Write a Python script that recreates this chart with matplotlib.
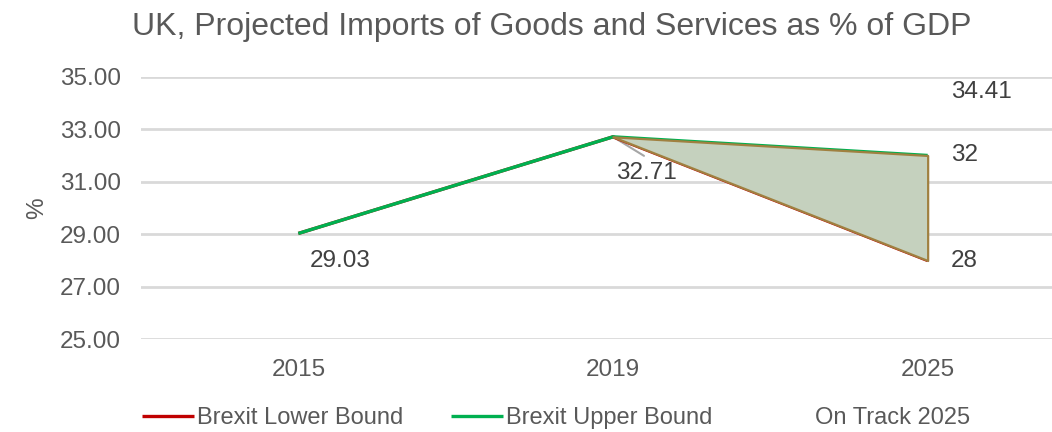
import matplotlib
matplotlib.use("Agg")
import matplotlib.pyplot as plt

# Projected UK imports of goods and services, % of GDP
years = ["2015", "2019", "2025"]
lower_bound = [29.03, 32.71, 28.0]
upper_bound = [29.03, 32.71, 32.0]
on_track_2025 = [34.41]

plt.rcParams["font.family"] = ["Liberation Sans", "DejaVu Sans"]
GREY_TEXT = "#595959"
DARK_TEXT = "#404040"
RED = "#c00000"
GREEN = "#00b050"

fig = plt.figure(figsize=(10.52, 4.32), dpi=100)
ax = fig.add_axes([141 / 1052, 0.2146, 944 / 1052, 0.6079])

x = list(range(len(years)))
ax.plot(x, lower_bound, color=RED, lw=2.4, label="Brexit Lower Bound", zorder=3,
        solid_capstyle="butt")
ax.plot(x, upper_bound, color=GREEN, lw=2.4, label="Brexit Upper Bound", zorder=4,
        solid_capstyle="butt")
ax.plot([x[-1]], on_track_2025, linestyle="none", marker=None, label="On Track 2025")

# Shaded Brexit range between the bounds after 2019
ax.fill_between(x[1:], lower_bound[1:], upper_bound[1:], facecolor="#c5d1be",
                edgecolor="#a08040", lw=1.6, zorder=5)

# Data labels
label_kw = dict(textcoords="offset points", fontsize=17.5, color=DARK_TEXT)
ax.annotate(f"{lower_bound[0]:.2f}", xy=(x[0], lower_bound[0]), xytext=(8, -19.5),
            ha="left", va="center", **label_kw)
ax.annotate("", xy=(x[1], lower_bound[1]), xytext=(22.3, -13.7),
            textcoords="offset points",
            arrowprops=dict(arrowstyle="-", color="#a6a6a6", lw=1.5,
                            shrinkA=0, shrinkB=0), zorder=2)
ax.annotate(f"{lower_bound[1]:.2f}", xy=(x[1], lower_bound[1]), xytext=(2, -26.4),
            ha="left", va="center", **label_kw)
ax.annotate(f"{upper_bound[2]:g}", xy=(x[2], upper_bound[2]), xytext=(16.5, 0),
            ha="left", va="center", **label_kw)
ax.annotate(f"{lower_bound[2]:g}", xy=(x[2], lower_bound[2]), xytext=(16.5, 0),
            ha="left", va="center", **label_kw)
ax.annotate(f"{on_track_2025[0]:.2f}", xy=(x[2], on_track_2025[0]), xytext=(16.5, 0),
            ha="left", va="center", **label_kw)

ax.set_xlim(-0.5, len(years) - 0.5)
ax.set_ylim(25, 35)
ax.set_yticks([25, 27, 29, 31, 33, 35])
ax.set_yticklabels([f"{v:.2f}" for v in [25, 27, 29, 31, 33, 35]])
ax.set_xticks(x)
ax.set_xticklabels(years)
ax.tick_params(axis="both", length=0, labelsize=17.5, labelcolor=GREY_TEXT)
ax.tick_params(axis="y", pad=14.4)
ax.tick_params(axis="x", pad=14)
ax.grid(axis="y", color="#d9d9d9", lw=2.0)
ax.set_axisbelow(True)
for s in ax.spines.values():
    s.set_visible(False)

fig.text(37 / 1052, 1 - 208.5 / 432, "%", rotation=90, ha="center", va="center",
         fontsize=17.5, color=GREY_TEXT)
fig.text(552 / 1052, 1 - 27 / 432, "UK, Projected Imports of Goods and Services as % of GDP",
         ha="center", va="center", fontsize=23, color=GREY_TEXT)

fig.legend(loc="center", bbox_to_anchor=(556 / 1052, 1 - 418 / 432), ncol=3,
           frameon=False, fontsize=17, labelcolor=GREY_TEXT, handlelength=2.2,
           handletextpad=0.15, columnspacing=2.0, borderaxespad=0)

fig.savefig("out.png", dpi=100)
